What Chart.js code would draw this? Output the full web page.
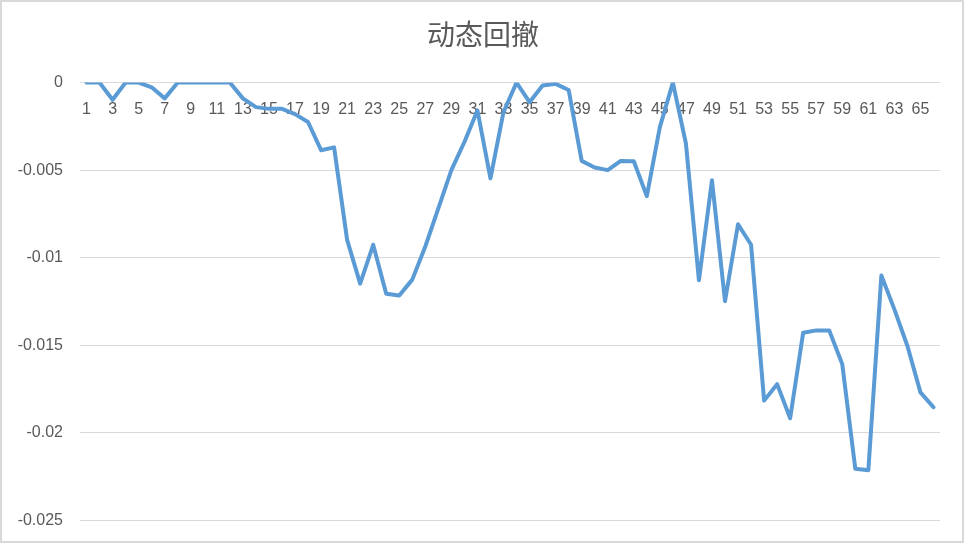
<!DOCTYPE html>
<html>
<head>
<meta charset="utf-8">
<script src="https://cdn.jsdelivr.net/npm/chart.js@4/dist/chart.umd.min.js"></script>
<style>
  html, body { margin: 0; padding: 0; background: #fff; }
  #wrap { width: 966px; height: 547px; position: relative; }
</style>
</head>
<body>
<div id="wrap"><canvas id="drawdown" width="966" height="547"></canvas></div>
<script>
// category labels 1..66 (only odd ones get printed, like excel does)
const categories = [
  '1','2','3','4','5','6','7','8','9','10','11','12','13','14','15','16','17','18','19','20','21','22',
  '23','24','25','26','27','28','29','30','31','32','33','34','35','36','37','38','39','40','41','42','43','44',
  '45','46','47','48','49','50','51','52','53','54','55','56','57','58','59','60','61','62','63','64','65','66'
];

// drawdown values
const drawdown = [
  0, 0, -0.00098, 0, 0, -0.00027, -0.0009, 0, 0, 0, 0, 0,
  -0.0009, -0.0014, -0.0015, -0.0015, -0.0018, -0.00225, -0.00386, -0.0037,
  -0.00898, -0.01148, -0.00926, -0.01206, -0.01216, -0.01125, -0.00936, -0.00718,
  -0.005, -0.00339, -0.00159, -0.00547, -0.00169, 0, -0.00112, -0.00017, -0.00007,
  -0.00042, -0.00447, -0.00485, -0.005, -0.00447, -0.00449, -0.00648, -0.00254, 0,
  -0.00348, -0.01129, -0.00557, -0.01248, -0.00809, -0.00926, -0.01816, -0.01722,
  -0.01917, -0.01428, -0.01415, -0.01415, -0.01608, -0.02205, -0.02214, -0.01102,
  -0.01295, -0.01504, -0.01769, -0.01854
];

const yTicks = [0, -0.005, -0.01, -0.015, -0.02, -0.025];
const chartTitle = '动态回撤';

const txtColor = '#595959';
const gridColor = '#d9d9d9';

const frame = {
  id: 'frame',
  beforeDraw: (chart) => {
    const {ctx} = chart;
    ctx.save();
    ctx.fillStyle = '#fff';
    ctx.fillRect(0, 0, chart.width, chart.height);
    ctx.strokeStyle = gridColor;
    ctx.lineWidth = 2;
    ctx.strokeRect(1, 1, 962, 541);
    ctx.restore();
  }
};

const canvas = document.getElementById('drawdown');
new Chart(canvas.getContext('2d'), {
  type: 'line',
  data: {
    labels: categories,
    datasets: [{
      data: drawdown,
      borderColor: '#5B9BD5',
      borderWidth: 4,
      borderJoinStyle: 'round',
      borderCapStyle: 'round',
      pointRadius: 0,
      tension: 0,
      fill: false
    }]
  },
  options: {
    responsive: false,
    animation: false,
    events: [],
    layout: { padding: { left: 0, right: 0, top: 0, bottom: 23 } },
    plugins: {
      legend: { display: false },
      tooltip: { enabled: false },
      title: {
        display: true,
        text: chartTitle,
        color: txtColor,
        font: { family: '"Noto Sans CJK SC", sans-serif', size: 28, weight: 'normal', lineHeight: 1.2 },
        padding: { top: 18, bottom: 31 }
      }
    },
    scales: {
      x: {
        position: { y: 0 },
        offset: true,
        grid: { display: false, drawTicks: false },
        border: { display: false },
        ticks: {
          autoSkip: false,
          maxRotation: 0,
          minRotation: 0,
          padding: 17,
          color: txtColor,
          font: { family: '"Liberation Sans", sans-serif', size: 16 },
          callback: (v, i) => (i % 2 === 0 ? categories[i] : '')
        }
      },
      y: {
        min: -0.025,
        max: 0,
        afterBuildTicks: (scale) => { scale.ticks = yTicks.map(v => ({ value: v })); },
        afterFit: (scale) => { scale.width = 80; },
        grid: { color: gridColor, lineWidth: 1, drawTicks: false },
        border: { display: false },
        ticks: {
          padding: 17,
          color: txtColor,
          font: { family: '"Liberation Sans", sans-serif', size: 16 },
          callback: (v) => String(Number(v.toFixed(3)))
        }
      },
      // blank spacer on the right so the title stays centred on the canvas
      spacer: {
        type: 'linear',
        position: 'right',
        grid: { display: false, drawTicks: false },
        border: { display: false },
        ticks: { display: false },
        afterFit: (scale) => { scale.width = 26; }
      }
    }
  },
  plugins: [frame]
});
</script>
</body>
</html>
